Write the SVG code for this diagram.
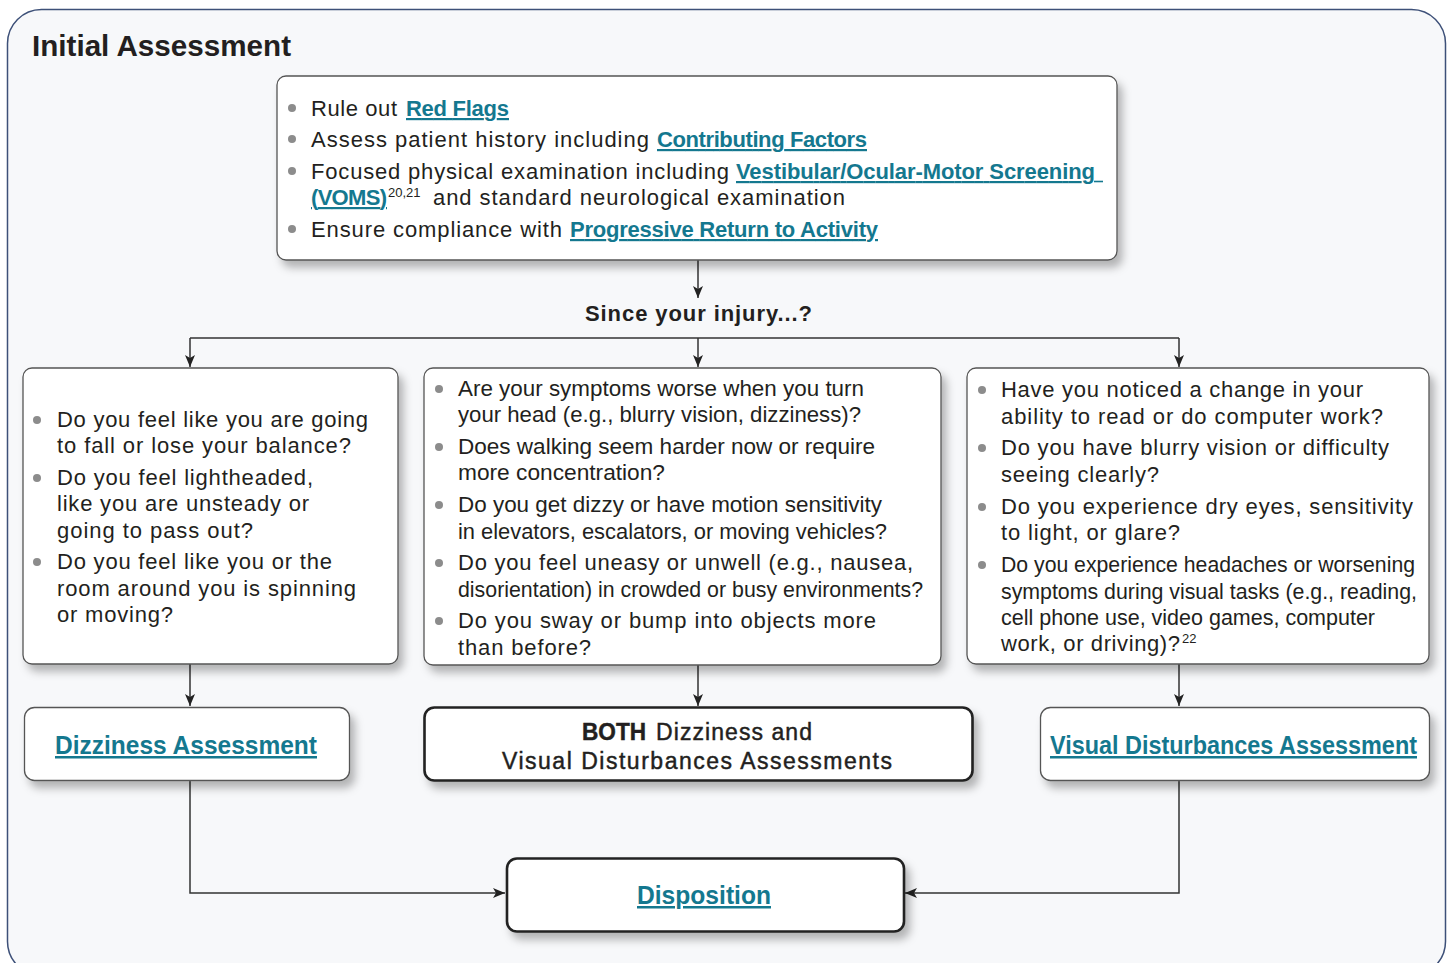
<svg xmlns="http://www.w3.org/2000/svg" width="1448" height="963" viewBox="0 0 1448 963">
<defs>
<filter id="sh" x="-10%" y="-10%" width="130%" height="140%">
<feDropShadow dx="5" dy="7" stdDeviation="4" flood-color="#000" flood-opacity="0.28"/>
</filter>
<marker id="ar" markerUnits="userSpaceOnUse" markerWidth="12" markerHeight="10" refX="12" refY="5" orient="auto">
<path d="M0,0 L12,5 L0,10 L3,5 z" fill="#222"/>
</marker>
<style>
.box{fill:#fff;stroke:#555;stroke-width:1.3;filter:url(#sh)}
.boxb{fill:#fff;stroke:#222;stroke-width:2.6;filter:url(#sh)}
.t{font-family:"Liberation Sans",Arial,sans-serif;font-size:22px;fill:#231f20}
.lk{font-weight:bold;fill:#14788f;text-decoration:underline}
.sup{font-size:13px}
.bul{fill:#8c8c8c}
.conn{stroke:#333;stroke-width:1.5;fill:none}
.lab{font-family:"Liberation Sans",Arial,sans-serif;font-size:25px;font-weight:bold;fill:#14788f;text-decoration:underline}
.dk{font-family:"Liberation Sans",Arial,sans-serif;font-size:23px;fill:#231f20;stroke:#231f20;stroke-width:0.45}
</style>
</defs>
<rect x="7.5" y="9.5" width="1438" height="966" rx="34" fill="#f7f8fa" stroke="#3d5078" stroke-width="1.5"/>
<text x="32" y="56" font-family="Liberation Sans,Arial,sans-serif" font-size="29.5" font-weight="bold" fill="#231f20" textLength="259" lengthAdjust="spacingAndGlyphs">Initial Assessment</text>

<g id="connectors">
<path class="conn" d="M698,260 V298" marker-end="url(#ar)"/>
<path class="conn" d="M190,338 H1179"/>
<path class="conn" d="M190,338 V367" marker-end="url(#ar)"/>
<path class="conn" d="M698,338 V367" marker-end="url(#ar)"/>
<path class="conn" d="M1179,338 V367" marker-end="url(#ar)"/>
<path class="conn" d="M190,664 V706" marker-end="url(#ar)"/>
<path class="conn" d="M698,665 V706" marker-end="url(#ar)"/>
<path class="conn" d="M1179,664 V706" marker-end="url(#ar)"/>
<path class="conn" d="M190,781 V893 H505" marker-end="url(#ar)"/>
<path class="conn" d="M1179,781 V893 H905" marker-end="url(#ar)"/>
</g>

<g id="initial">
<rect class="box" x="277" y="76" width="840" height="184" rx="9"/>
<circle class="bul" cx="292" cy="108" r="4"/>
<circle class="bul" cx="292" cy="139" r="4"/>
<circle class="bul" cx="292" cy="171" r="4"/>
<circle class="bul" cx="292" cy="229" r="4"/>
<text class="t" x="311" y="116" textLength="86">Rule out</text>
<text class="t lk" x="406" y="116" textLength="103">Red Flags</text>
<text class="t" x="311" y="147" textLength="338">Assess patient history including</text>
<text class="t lk" x="657" y="147" textLength="210">Contributing Factors</text>
<text class="t" x="311" y="179" textLength="418">Focused physical examination including</text>
<text class="t lk" x="736" y="179" textLength="359">Vestibular/Ocular-Motor Screening</text>
<line x1="1094" y1="181.5" x2="1103" y2="181.5" stroke="#14788f" stroke-width="1.6"/>
<text class="t lk" x="311" y="205" textLength="76">(VOMS)</text>
<text class="t sup" x="388" y="197">20,21</text>
<text class="t" x="433" y="205" textLength="412">and standard neurological examination</text>
<text class="t" x="311" y="237" textLength="251">Ensure compliance with</text>
<text class="t lk" x="570" y="237" textLength="308">Progressive Return to Activity</text>
</g>

<text id="question" x="585" y="321" font-family="Liberation Sans,Arial,sans-serif" font-size="22" font-weight="bold" fill="#231f20" textLength="227">Since your injury...?</text>

<g id="dizzy-q">
<rect class="box" x="23" y="368" width="375" height="296" rx="9"/>
<circle class="bul" cx="37" cy="420" r="4"/>
<circle class="bul" cx="37" cy="478" r="4"/>
<circle class="bul" cx="37" cy="562" r="4"/>
<text class="t" x="57" y="427" textLength="311">Do you feel like you are going</text>
<text class="t" x="57" y="453" textLength="294">to fall or lose your balance?</text>
<text class="t" x="57" y="485" textLength="256">Do you feel lightheaded,</text>
<text class="t" x="57" y="511" textLength="252">like you are unsteady or</text>
<text class="t" x="57" y="538" textLength="196">going to pass out?</text>
<text class="t" x="57" y="569" textLength="275">Do you feel like you or the</text>
<text class="t" x="57" y="596" textLength="299">room around you is spinning</text>
<text class="t" x="57" y="622" textLength="116">or moving?</text>
</g>

<g id="both-q">
<rect class="box" x="424" y="368" width="517" height="297" rx="9"/>
<circle class="bul" cx="439" cy="389" r="4"/>
<circle class="bul" cx="439" cy="447" r="4"/>
<circle class="bul" cx="439" cy="505" r="4"/>
<circle class="bul" cx="439" cy="563" r="4"/>
<circle class="bul" cx="439" cy="621" r="4"/>
<text class="t" x="458" y="396" textLength="406" lengthAdjust="spacingAndGlyphs">Are your symptoms worse when you turn</text>
<text class="t" x="458" y="422" textLength="403" lengthAdjust="spacingAndGlyphs">your head (e.g., blurry vision, dizziness)?</text>
<text class="t" x="458" y="454" textLength="417" lengthAdjust="spacingAndGlyphs">Does walking seem harder now or require</text>
<text class="t" x="458" y="480" textLength="207" lengthAdjust="spacingAndGlyphs">more concentration?</text>
<text class="t" x="458" y="512" textLength="424" lengthAdjust="spacingAndGlyphs">Do you get dizzy or have motion sensitivity</text>
<text class="t" x="458" y="539" textLength="429" lengthAdjust="spacingAndGlyphs">in elevators, escalators, or moving vehicles?</text>
<text class="t" x="458" y="570" textLength="455">Do you feel uneasy or unwell (e.g., nausea,</text>
<text class="t" x="458" y="597" textLength="465" lengthAdjust="spacingAndGlyphs">disorientation) in crowded or busy environments?</text>
<text class="t" x="458" y="628" textLength="418">Do you sway or bump into objects more</text>
<text class="t" x="458" y="655" textLength="133">than before?</text>
</g>

<g id="visual-q">
<rect class="box" x="967" y="368" width="462" height="296" rx="9"/>
<circle class="bul" cx="982" cy="390" r="4"/>
<circle class="bul" cx="982" cy="448" r="4"/>
<circle class="bul" cx="982" cy="507" r="4"/>
<circle class="bul" cx="982" cy="565" r="4"/>
<text class="t" x="1001" y="397" textLength="362">Have you noticed a change in your</text>
<text class="t" x="1001" y="424" textLength="382">ability to read or do computer work?</text>
<text class="t" x="1001" y="455" textLength="388">Do you have blurry vision or difficulty</text>
<text class="t" x="1001" y="482" textLength="158">seeing clearly?</text>
<text class="t" x="1001" y="514" textLength="412">Do you experience dry eyes, sensitivity</text>
<text class="t" x="1001" y="540" textLength="179">to light, or glare?</text>
<text class="t" x="1001" y="572" textLength="414" lengthAdjust="spacingAndGlyphs">Do you experience headaches or worsening</text>
<text class="t" x="1001" y="599" textLength="416" lengthAdjust="spacingAndGlyphs">symptoms during visual tasks (e.g., reading,</text>
<text class="t" x="1001" y="625" textLength="374" lengthAdjust="spacingAndGlyphs">cell phone use, video games, computer</text>
<text class="t" x="1001" y="651" textLength="179">work, or driving)?</text>
<text class="t sup" x="1182" y="643">22</text>
</g>

<g id="dizziness-assessment">
<rect class="box" x="24.5" y="707.5" width="325" height="73" rx="10"/>
<text class="lab" x="55" y="754" textLength="262" lengthAdjust="spacingAndGlyphs">Dizziness Assessment</text>
</g>

<g id="both-assessments">
<rect class="boxb" x="424.5" y="707.5" width="548" height="73" rx="10"/>
<text class="dk" x="582" y="740" font-weight="bold" textLength="64" lengthAdjust="spacingAndGlyphs">BOTH</text>
<text class="dk" x="656" y="740" textLength="156">Dizziness and</text>
<text class="dk" x="502" y="769" textLength="390">Visual Disturbances Assessments</text>
</g>

<g id="visual-assessment">
<rect class="box" x="1040.5" y="707.5" width="389" height="73" rx="10"/>
<text class="lab" x="1050" y="754" textLength="367" lengthAdjust="spacingAndGlyphs">Visual Disturbances Assessment</text>
</g>

<g id="disposition">
<rect class="boxb" x="507" y="858.5" width="397" height="73" rx="10"/>
<text class="lab" x="637" y="904" textLength="134" lengthAdjust="spacingAndGlyphs">Disposition</text>
</g>
</svg>
